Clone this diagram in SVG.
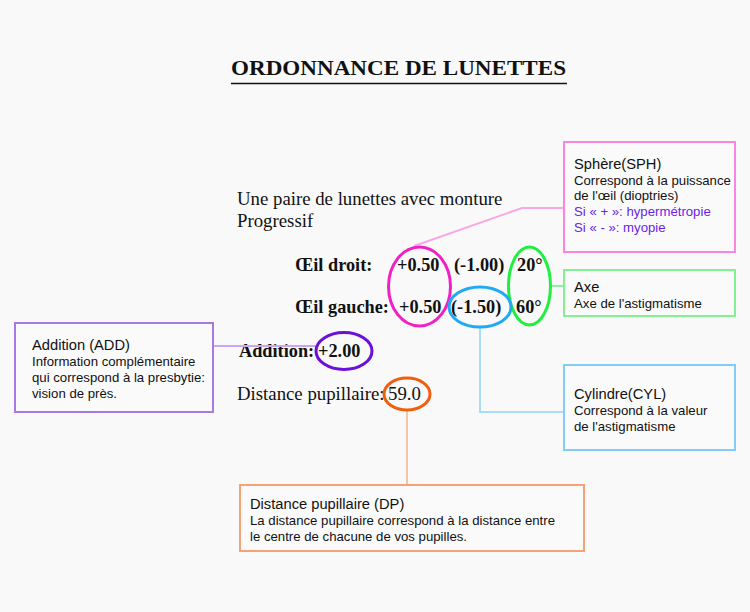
<svg xmlns="http://www.w3.org/2000/svg" width="750" height="612" viewBox="0 0 750 612">
<style>
.serif{font-family:"Liberation Serif","Times New Roman",serif;fill:#111}
.main{font-size:18.8px}
.b{font-weight:bold;font-size:18.3px}
.title{font-size:21px;font-weight:bold}
.sans{font-family:"Liberation Sans",Arial,sans-serif;fill:#111}
.h{font-size:14.7px}
.d{font-size:13.2px}
.pu{fill:#6a1ee8}
.box{fill:#fafafa;stroke-width:2}
.ell{fill:none;stroke-width:3}
.con{fill:none;stroke-width:2}
</style>
<rect width="750" height="612" fill="#f9f9f9"/>
<g id="title">
<text class="serif title" x="231" y="75" textLength="335" lengthAdjust="spacingAndGlyphs">ORDONNANCE DE LUNETTES</text>
<line x1="231" y1="83.5" x2="567" y2="83.5" stroke="#111" stroke-width="1.3"/>
</g>
<g id="prescription">
<text class="serif main" x="237" y="205">Une paire de lunettes avec monture</text>
<text class="serif main" x="237" y="227">Progressif</text>
<text class="serif main b" x="295" y="271">Œil droit:</text>
<text class="serif main b" x="397" y="271">+0.50</text>
<text class="serif main b" x="454" y="271">(-1.00)</text>
<text class="serif main b" x="517" y="271">20°</text>
<text class="serif main b" x="295" y="313">Œil gauche:</text>
<text class="serif main b" x="399" y="313">+0.50</text>
<text class="serif main b" x="451" y="313">(-1.50)</text>
<text class="serif main b" x="516" y="313">60°</text>
<text class="serif main b" x="239" y="357">Addition:</text>
<text class="serif main b" x="318" y="357">+2.00</text>
<text class="serif main" x="237" y="400">Distance pupillaire:</text>
<text class="serif main" x="388" y="400">59.0</text>
</g>
<g id="connectors">
<polyline class="con" stroke="#f8a8e4" points="414,246 522,208 564,208"/>
<line class="con" stroke="#90f0a0" x1="551" y1="286" x2="564" y2="286"/>
<polyline class="con" stroke="#a8dcf8" points="480,327 480,412 564,412"/>
<line class="con" stroke="#c8a8f4" x1="213" y1="346" x2="316" y2="346"/>
<line class="con" stroke="#f4c4a4" x1="407" y1="410" x2="407" y2="485"/>
</g>
<g id="ellipses">
<ellipse class="ell" stroke="#f020c4" cx="419.5" cy="286.5" rx="31" ry="39.5"/>
<ellipse class="ell" stroke="#20ee40" cx="529.5" cy="286" rx="21" ry="39"/>
<ellipse class="ell" stroke="#20aaf4" cx="480" cy="307" rx="31" ry="20"/>
<ellipse class="ell" stroke="#6a10d8" cx="344" cy="351" rx="28" ry="18.5"/>
<ellipse class="ell" stroke="#ee6010" cx="407" cy="394" rx="23" ry="16"/>
</g>
<g id="sphere">
<rect class="box" stroke="#f884e4" x="564" y="142" width="171" height="110"/>
<text class="sans h" x="574" y="169">Sphère(SPH)</text>
<text class="sans d" x="574" y="185">Correspond à la puissance</text>
<text class="sans d" x="574" y="200">de l'œil (dioptries)</text>
<text class="sans d pu" x="574" y="216">Si « + »: hypermétropie</text>
<text class="sans d pu" x="574" y="232">Si « - »: myopie</text>
</g>
<g id="axe">
<rect class="box" stroke="#84f094" x="564" y="270" width="171" height="46"/>
<text class="sans h" x="574" y="292">Axe</text>
<text class="sans d" x="574" y="308">Axe de l'astigmatisme</text>
</g>
<g id="cylindre">
<rect class="box" stroke="#84ccf8" x="564" y="365" width="171" height="85"/>
<text class="sans h" x="574" y="399">Cylindre(CYL)</text>
<text class="sans d" x="574" y="415">Correspond à la valeur</text>
<text class="sans d" x="574" y="431">de l'astigmatisme</text>
</g>
<g id="addition">
<rect class="box" stroke="#a878e4" x="15" y="323" width="198" height="89"/>
<text class="sans h" x="32" y="350">Addition (ADD)</text>
<text class="sans d" x="32" y="366">Information complémentaire</text>
<text class="sans d" x="32" y="382">qui correspond à la presbytie:</text>
<text class="sans d" x="32" y="398">vision de près.</text>
</g>
<g id="dp">
<rect class="box" stroke="#f4a474" x="240" y="485" width="344" height="66"/>
<text class="sans h" x="250" y="509">Distance pupillaire (DP)</text>
<text class="sans d" x="250" y="525">La distance pupillaire correspond à la distance entre</text>
<text class="sans d" x="250" y="541">le centre de chacune de vos pupilles.</text>
</g>
</svg>
